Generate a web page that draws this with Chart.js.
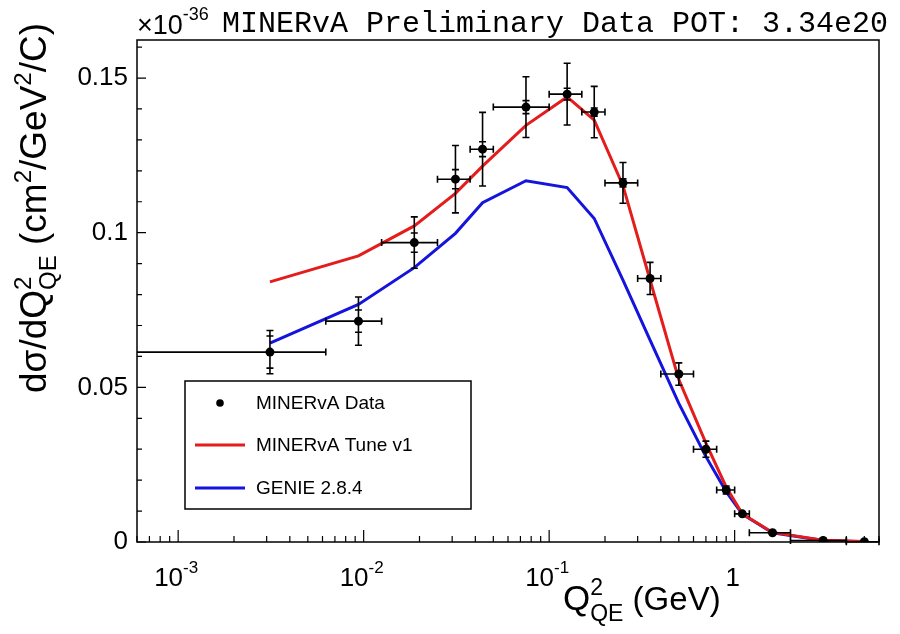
<!DOCTYPE html>
<html>
<head>
<meta charset="UTF-8">
<title>MINERvA CCQE dsigma/dQ2</title>
<script src="https://cdn.jsdelivr.net/npm/chart.js@4.4.1/dist/chart.umd.min.js"></script>
<style>
  body { margin: 0; background: #fff; }
  canvas { display: block; }
</style>
</head>
<body>
<canvas id="grafico" width="900" height="634"></canvas>
<script>
  // bins de Q2_QE (GeV^2) e valores em unidades de 1e-36 cm2/GeV2/C
  const binEdges = [0, 0.00625, 0.0125, 0.025, 0.0375, 0.05, 0.1, 0.15, 0.2, 0.3, 0.4, 0.6, 0.8, 1.0, 1.2, 2.0, 4.0, 6.0];
  const binCenters = [0.003125, 0.009375, 0.01875, 0.03125, 0.04375, 0.075, 0.125, 0.175, 0.25, 0.35, 0.5, 0.7, 0.9, 1.1, 1.6, 3.0, 5.0];

  const dadosMinerva = [0.0614, 0.0714, 0.0968, 0.1173, 0.1270, 0.1406, 0.1448, 0.1390, 0.1161, 0.0852, 0.0543, 0.0300, 0.0168, 0.0091, 0.0030, 0.0005, 0.0001];
  const erroTotal = [0.0070, 0.0078, 0.0083, 0.0109, 0.0119, 0.0098, 0.0100, 0.0083, 0.0066, 0.0052, 0.0036, 0.0026, 0.0013, 0.0007, 0.0003, 0.0001, 0.0000];
  const erroEstat = [0.0052, 0.0036, 0.0031, 0.0031, 0.0024, 0.0021, 0.0019, 0.0013, 0.0013, 0.0010, 0.0006, 0.0004, 0.0003, 0.0002, 0.0001, 0.0000, 0.0000];
  const tuneV1 = [0.0841, 0.0925, 0.1022, 0.1127, 0.1215, 0.1347, 0.1439, 0.1364, 0.1152, 0.0847, 0.0525, 0.0320, 0.0178, 0.0091, 0.0031, 0.0006, 0.0002];
  const genie = [0.0643, 0.0768, 0.0887, 0.0998, 0.1097, 0.1168, 0.1146, 0.1046, 0.0847, 0.0653, 0.0448, 0.0276, 0.0163, 0.0090, 0.0030, 0.0005, 0.0001];

  const yTicks = [0, 0.05, 0.1, 0.15];
  const yTickLabels = ["0", "0.05", "0.1", "0.15"];
  const xTicks = [0.001, 0.01, 0.1, 1];
  const xTickBase = ["10", "10", "10", "1"];
  const xTickExp = ["-3", "-2", "-1", ""];

  const legendaNomes = ["MINERvA Data", "MINERvA Tune v1", "GENIE 2.8.4"];

  const VERMELHO = "#e51c1c";
  const AZUL = "#1414dc";
  const SANS = '"Liberation Sans", Arial, sans-serif';

  function pontos(valores) {
    let lista = [];
    for (let i = 0; i < valores.length; i++) {
      lista.push({ x: binCenters[i], y: valores[i] });
    }
    return lista;
  }

  // texto com sobrescrito/subscrito: partes = [[texto, tamanho, deslocY, naoAvanca]]
  function textoComposto(ctx, partes, x, y) {
    let cx = x;
    for (let i = 0; i < partes.length; i++) {
      const p = partes[i];
      ctx.font = p[1] + "px " + SANS;
      ctx.fillText(p[0], cx, y + p[2]);
      if (!p[3]) cx += ctx.measureText(p[0]).width;
    }
    return cx;
  }

  const desenhoRoot = {
    id: "desenhoRoot",
    beforeDatasetDraw(chart, args) {
      if (args.index !== 0) return;
      const ctx = chart.ctx;
      const xs = chart.scales.x;
      const ys = chart.scales.y;
      const area = chart.chartArea;
      ctx.save();
      ctx.strokeStyle = "#000";
      ctx.lineWidth = 1.6;
      for (let i = 0; i < dadosMinerva.length; i++) {
        const px = xs.getPixelForValue(binCenters[i]);
        const py = ys.getPixelForValue(dadosMinerva[i]);
        let xl = binEdges[i] > 0 ? xs.getPixelForValue(binEdges[i]) : area.left;
        xl = Math.max(xl, area.left);
        const xr = Math.min(xs.getPixelForValue(binEdges[i + 1]), area.right);
        ctx.beginPath();
        ctx.moveTo(xl, py);
        ctx.lineTo(xr, py);
        if (xl > area.left + 1) {
          ctx.moveTo(xl, py - 3.5);
          ctx.lineTo(xl, py + 3.5);
        }
        ctx.moveTo(xr, py - 3.5);
        ctx.lineTo(xr, py + 3.5);
        const yt = ys.getPixelForValue(dadosMinerva[i] + erroTotal[i]);
        const yb = ys.getPixelForValue(Math.max(dadosMinerva[i] - erroTotal[i], 0));
        ctx.moveTo(px, yt);
        ctx.lineTo(px, yb);
        if (py - yt > 4) {
          ctx.moveTo(px - 3.5, yt);
          ctx.lineTo(px + 3.5, yt);
          ctx.moveTo(px - 3.5, yb);
          ctx.lineTo(px + 3.5, yb);
        }
        const st = ys.getPixelForValue(dadosMinerva[i] + erroEstat[i]);
        const sb = ys.getPixelForValue(dadosMinerva[i] - erroEstat[i]);
        if (py - st > 4) {
          ctx.moveTo(px - 3.5, st);
          ctx.lineTo(px + 3.5, st);
          ctx.moveTo(px - 3.5, sb);
          ctx.lineTo(px + 3.5, sb);
        }
        ctx.stroke();
      }
      ctx.restore();
    },
    afterDraw(chart) {
      const ctx = chart.ctx;
      const xs = chart.scales.x;
      const ys = chart.scales.y;
      const a = chart.chartArea;
      ctx.save();
      ctx.fillStyle = "#000";
      ctx.strokeStyle = "#000";

      // moldura
      ctx.lineWidth = 1.5;
      ctx.strokeRect(a.left, a.top, a.right - a.left, a.bottom - a.top);

      // ticks eixo y
      ctx.lineWidth = 1.2;
      ctx.beginPath();
      for (let k = 0; k <= 16; k++) {
        const py = ys.getPixelForValue(k / 100);
        const len = k % 5 === 0 ? 9 : 5;
        ctx.moveTo(a.left, py);
        ctx.lineTo(a.left + len, py);
      }
      // ticks eixo x (log)
      for (let e = -4; e <= 0; e++) {
        for (let m = 1; m <= 9; m++) {
          const v = m * Math.pow(10, e);
          if (v < xs.min || v > xs.max) continue;
          const px = xs.getPixelForValue(v);
          const len = m === 1 ? 12 : 6;
          ctx.moveTo(px, a.bottom);
          ctx.lineTo(px, a.bottom - len);
        }
      }
      ctx.stroke();

      // rotulos eixo y
      ctx.font = "26px " + SANS;
      ctx.textAlign = "right";
      ctx.textBaseline = "middle";
      for (let i = 0; i < yTicks.length; i++) {
        ctx.fillText(yTickLabels[i], 128, ys.getPixelForValue(yTicks[i]));
      }

      // rotulos eixo x
      ctx.textAlign = "left";
      ctx.textBaseline = "alphabetic";
      for (let i = 0; i < xTicks.length; i++) {
        ctx.font = "26px " + SANS;
        const wb = ctx.measureText(xTickBase[i]).width;
        ctx.font = "17px " + SANS;
        const we = ctx.measureText(xTickExp[i]).width;
        const x0 = xs.getPixelForValue(xTicks[i]) - (wb + we) / 2 - 2;
        textoComposto(ctx, [[xTickBase[i], 26, 0], [xTickExp[i], 17, -13]], x0, 586);
      }

      // titulo eixo x
      let cx = textoComposto(ctx, [["Q", 35, 0], ["2", 23, -15, true]], 563, 610);
      textoComposto(ctx, [["QE", 23, 11], [" (GeV)", 33, 0]], cx, 610);

      // titulo eixo y (rotacionado)
      ctx.save();
      ctx.translate(46, 393);
      ctx.rotate(-Math.PI / 2);
      cx = textoComposto(ctx, [["d\u03c3/dQ", 37, 0], ["2", 24, -15, true]], 0, 0);
      cx = textoComposto(ctx, [["QE", 24, 10], [" (cm", 37, 0], ["2", 24, -15], ["/GeV", 37, 0], ["2", 24, -15], ["/C)", 37, 0]], cx, 0);
      ctx.restore();

      // cabecalho
      cx = textoComposto(ctx, [["\u00d7", 27, 0], ["10", 27, 0], ["-36", 18, -14]], 137, 34);
      ctx.font = '30px "Liberation Mono", "Courier New", monospace';
      ctx.fillText("MINERvA Preliminary Data POT: 3.34e20", 222, 32);

      // legenda
      ctx.fillStyle = "#fff";
      ctx.fillRect(185, 381, 286, 128);
      ctx.lineWidth = 1.5;
      ctx.strokeStyle = "#000";
      ctx.strokeRect(185, 381, 286, 128);
      ctx.fillStyle = "#000";
      ctx.beginPath();
      ctx.arc(220, 403, 3.8, 0, Math.PI * 2);
      ctx.fill();
      ctx.lineWidth = 3;
      ctx.strokeStyle = VERMELHO;
      ctx.beginPath();
      ctx.moveTo(195, 445);
      ctx.lineTo(245, 445);
      ctx.stroke();
      ctx.strokeStyle = AZUL;
      ctx.beginPath();
      ctx.moveTo(195, 488);
      ctx.lineTo(245, 488);
      ctx.stroke();
      ctx.font = "19px " + SANS;
      ctx.textBaseline = "middle";
      ctx.fillText(legendaNomes[0], 256, 404);
      ctx.fillText(legendaNomes[1], 256, 446);
      ctx.fillText(legendaNomes[2], 256, 489);
      ctx.restore();
    }
  };

  new Chart(document.getElementById("grafico"), {
    type: "line",
    data: {
      datasets: [
        {
          label: legendaNomes[0],
          data: pontos(dadosMinerva),
          showLine: false,
          pointRadius: 4.5,
          pointBackgroundColor: "#000",
          pointBorderWidth: 0,
          borderColor: "#000",
        },
        {
          label: legendaNomes[1],
          data: pontos(tuneV1),
          borderColor: VERMELHO,
          borderWidth: 3,
          pointRadius: 0,
          tension: 0,
        },
        {
          label: legendaNomes[2],
          data: pontos(genie),
          borderColor: AZUL,
          borderWidth: 3,
          pointRadius: 0,
          tension: 0,
        },
      ],
    },
    options: {
      responsive: false,
      animation: false,
      layout: { padding: { left: 137, right: 21, top: 40, bottom: 92 } },
      plugins: { legend: { display: false }, tooltip: { enabled: false } },
      scales: {
        x: { type: "logarithmic", min: 0.000625, max: 6.0, display: false },
        y: { type: "linear", min: 0, max: 0.1623, display: false },
      },
    },
    plugins: [desenhoRoot],
  });
</script>
</body>
</html>
